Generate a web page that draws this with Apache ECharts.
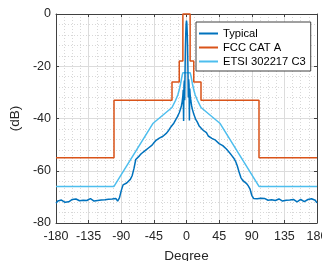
<!DOCTYPE html>
<html>
<head>
<meta charset="utf-8">
<script src="https://cdn.jsdelivr.net/npm/echarts@6/dist/echarts.min.js"></script>
<style>
  html, body { margin: 0; padding: 0; background: #fff; }
  #main { width: 322px; height: 261px; }
</style>
</head>
<body>
<div id="main"></div>
<script>
'use strict';

// tick labels
const xTicks = [-180, -135, -90, -45, 0, 45, 90, 135, 180];
const yTicks = [-80, -60, -40, -20, 0];

const typDeg = [-180, -177.5, -175, -172.5, -170, -167.5, -165, -162.5, -160, -157.5, -155, -152.5,
	-150, -147.5, -145, -142.5, -140, -137.5, -135, -132.5, -130, -127.5, -125, -122.5,
	-120, -117.5, -115, -112.5, -110, -107.5, -105, -102.5, -100, -97.5, -95, -92.5,
	-90, -87.5, -85, -82.5, -80, -77.5, -75, -72.5, -70, -67.5, -65, -62.5,
	-60, -57.5, -55, -52.5, -50, -47.5, -45, -42.5, -40, -37.5, -35, -32.5,
	-30, -27.5, -25, -22.5, -20, -17.5, -15, -12.5, -10, -8, -7, -6,
	-5, -4.5, -4, -3.5, -3, -2.5, -2, -1.5, -1, -0.5, 0, 0.5,
	1, 1.5, 2, 2.5, 3, 3.5, 4, 4.5, 5, 6, 7, 8,
	10, 12.5, 15, 17.5, 20, 22.5, 25, 27.5, 30, 32.5, 35, 37.5,
	40, 42.5, 45, 47.5, 50, 52.5, 55, 57.5, 60, 62.5, 65, 67.5,
	70, 72.5, 75, 77.5, 80, 82.5, 85, 87.5, 90, 92.5, 95, 97.5,
	100, 102.5, 105, 107.5, 110, 112.5, 115, 117.5, 120, 122.5, 125, 127.5,
	130, 132.5, 135, 137.5, 140, 142.5, 145, 147.5, 150, 152.5, 155, 157.5,
	160, 162.5, 165, 167.5, 170, 172.5, 175, 177.5, 180];
const typVal = [-72.4, -71.6, -70.9, -71.2, -71.7, -72.1, -71.5, -71.9, -71.4, -71.0, -71.3, -70.8,
	-71.1, -71.5, -70.9, -71.3, -71.0, -71.4, -71.1, -70.7, -71.2, -71.6, -71.0, -71.4,
	-71.7, -71.2, -70.8, -71.1, -70.6, -70.9, -70.5, -70.8, -70.2, -70.6, -71.6, -70.4,
	-67.6, -65.4, -65.0, -64.7, -64.1, -63.3, -61.9, -59.2, -55.7, -55.0, -54.3, -53.5,
	-52.8, -52.4, -51.8, -51.3, -50.6, -50.2, -49.3, -48.5, -48.1, -47.5, -47.9, -46.8,
	-46.4, -45.6, -44.7, -43.6, -42.7, -41.8, -40.5, -39.3, -37.8, -36.2, -35.1, -33.6,
	-31.2, -29.0, -41.0, -27.5, -25.5, -33.0, -22.0, -13.0, -7.5, -3.8, -2.5, -3.6,
	-7.2, -12.5, -21.5, -32.0, -25.0, -27.0, -40.8, -28.5, -30.8, -33.2, -35.0, -36.4,
	-38.3, -40.2, -41.4, -42.9, -43.6, -44.4, -45.1, -45.4, -46.7, -47.2, -47.6, -47.8,
	-48.3, -48.7, -49.6, -50.0, -50.4, -51.0, -51.7, -52.4, -53.3, -54.2, -55.1, -56.3,
	-58.1, -60.5, -62.6, -63.7, -64.3, -64.8, -65.7, -66.9, -69.4, -70.6, -71.3, -70.7,
	-70.2, -70.5, -70.9, -70.6, -71.0, -71.3, -70.8, -71.1, -70.9, -71.4, -71.2, -70.8,
	-71.3, -71.6, -71.1, -71.3, -70.9, -71.2, -71.5, -71.0, -71.4, -71.9, -71.3, -71.0,
	-71.5, -71.8, -71.2, -71.0, -71.3, -70.7, -70.4, -71.3, -72.3];

// FCC CAT A mask (step at end)
const fccDeg = [-180, -100, -20, -10, -5, 5, 10, 20, 100, 180];
const fccVal = [-55, -33, -26, -18, 0, -18, -26, -33, -55, -55];

// ETSI 302217 C3 mask
const etsiDeg = [-180, -100, -46, -20, -15, -12, -10, -8, -6, -5, 5, 6, 8, 10, 12, 15, 20, 46, 100, 180];
const etsiVal = [-66, -66, -41.8, -35.8, -33, -31, -29, -26.5, -23.5, -22.5, -22.5, -23.5, -26.5, -29, -31, -33, -35.8, -41.8, -66, -66];

function pairs(xs, ys) {
	return xs.map(function(x, i) { return [x, ys[i]]; });
}

var myChart = echarts.init(document.getElementById('main'));

const axisColor = '#404040';
const textColor = '#262626';
const font = 'Liberation Sans, Arial, sans-serif';

function xAx(pos, labels) {
	return {
		type: 'value', position: pos, min: -180, max: 180, interval: 45,
		axisLine: { show: true, onZero: false, lineStyle: { color: axisColor, width: 1 } },
		axisTick: { show: true, inside: true, length: 3, lineStyle: { color: axisColor } },
		axisLabel: {
			show: labels, color: textColor, fontSize: 12.5, fontFamily: font, margin: 7,
			formatter: function(v) { return xTicks.indexOf(v) >= 0 ? String(v) : ''; }
		},
		splitLine: { show: labels, lineStyle: { color: '#dcdcdc', width: 1 } },
		minorTick: { show: false, splitNumber: 4 },
		minorSplitLine: { show: labels, lineStyle: { color: '#d8d8d8', type: [1, 2], width: 1 } },
		name: labels ? 'Degree' : '', nameLocation: 'middle', nameGap: 26,
		nameTextStyle: { color: textColor, fontSize: 13.5, fontFamily: font }
	};
}

function yAx(pos, labels) {
	return {
		type: 'value', position: pos, min: -80, max: 0, interval: 20,
		axisLine: { show: true, onZero: false, lineStyle: { color: axisColor, width: 1 } },
		axisTick: { show: true, inside: true, length: 3, lineStyle: { color: axisColor } },
		axisLabel: {
			show: labels, color: textColor, fontSize: 12.5, fontFamily: font, margin: 5,
			formatter: function(v) { return yTicks.indexOf(v) >= 0 ? String(v) : ''; }
		},
		splitLine: { show: labels, lineStyle: { color: '#dcdcdc', width: 1 } },
		minorTick: { show: false, splitNumber: 5 },
		minorSplitLine: { show: labels, lineStyle: { color: '#d8d8d8', type: [1, 2], width: 1 } },
		name: labels ? '(dB)' : '', nameLocation: 'middle', nameGap: 25, nameRotate: 90,
		nameTextStyle: { color: textColor, fontSize: 13.5, fontFamily: font }
	};
}

var option = {
	animation: false,
	grid: { left: 56, right: 5, top: 14, bottom: 38, outerBoundsMode: 'none', containLabel: false },
	xAxis: [xAx('bottom', true), xAx('top', false)],
	yAxis: [yAx('left', true), yAx('right', false)],
	legend: {
		orient: 'vertical', left: 196, top: 22,
		padding: [6, 5, 4, 3], itemGap: 3,
		itemWidth: 19, itemHeight: 2,
		backgroundColor: '#fff', borderColor: axisColor, borderWidth: 1,
		textStyle: { color: '#000', fontSize: 11.2, fontFamily: font },
		data: [
			{ name: 'Typical', icon: 'rect' },
			{ name: 'FCC CAT A', icon: 'rect' },
			{ name: 'ETSI 302217 C3', icon: 'rect' }
		]
	},
	series: [
		{
			name: 'Typical', type: 'line', showSymbol: false, clip: false, z: 4,
			data: pairs(typDeg, typVal),
			lineStyle: { color: '#0072BD', width: 1.5 }, itemStyle: { color: '#0072BD' }
		},
		{
			name: 'FCC CAT A', type: 'line', showSymbol: false, clip: false, step: 'end', z: 2,
			data: pairs(fccDeg, fccVal),
			lineStyle: { color: '#D95319', width: 1.5 }, itemStyle: { color: '#D95319' }
		},
		{
			name: 'ETSI 302217 C3', type: 'line', showSymbol: false, clip: false, z: 3,
			data: pairs(etsiDeg, etsiVal),
			lineStyle: { color: '#4DBEEE', width: 1.5 }, itemStyle: { color: '#4DBEEE' }
		}
	]
};

myChart.setOption(option);
</script>
</body>
</html>
